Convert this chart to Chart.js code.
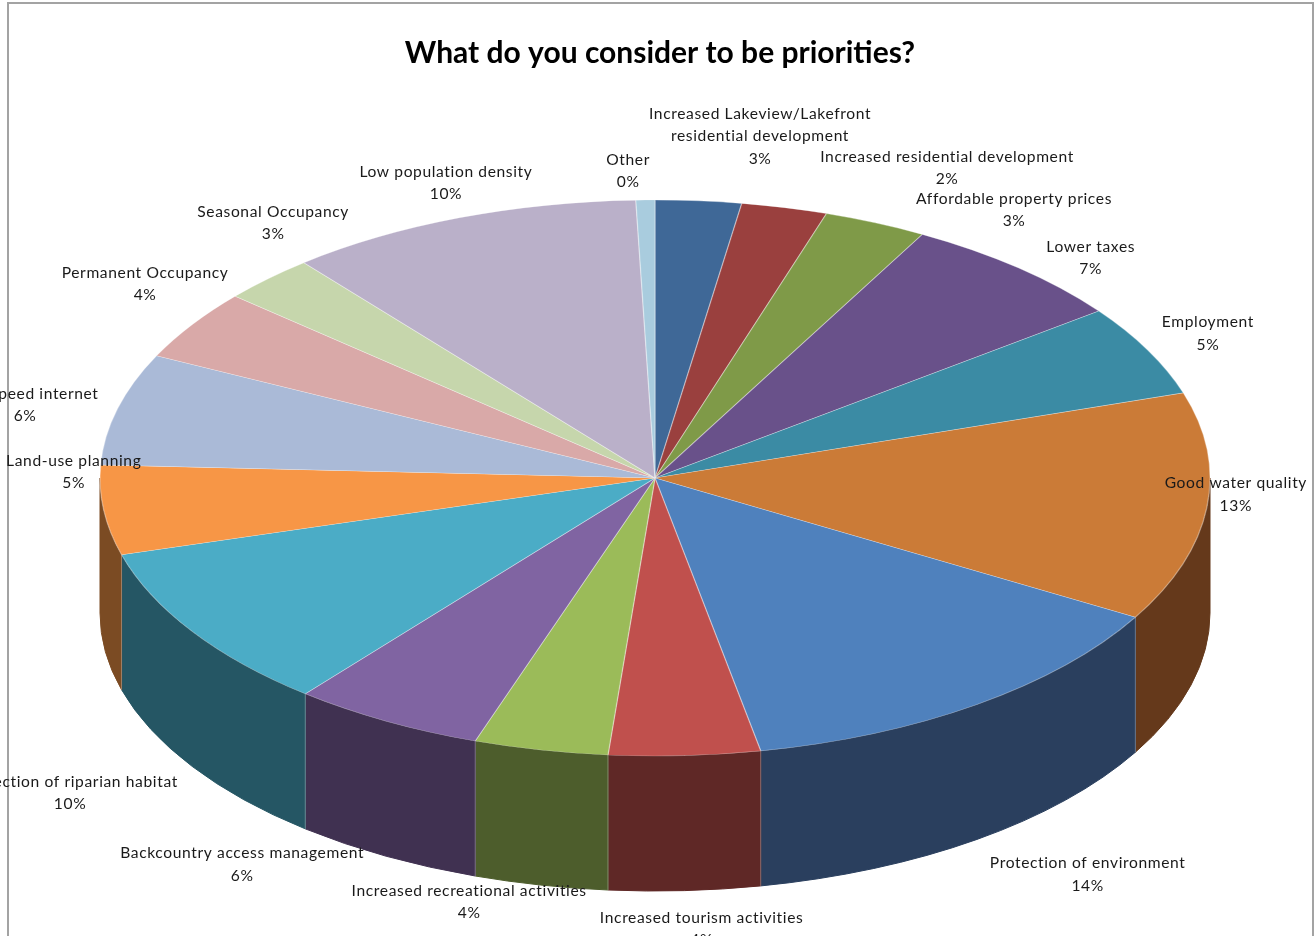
<!DOCTYPE html>
<html><head><meta charset="utf-8">
<style>
html,body{margin:0;padding:0;background:#fff;width:1315px;height:936px;overflow:hidden}
#frame{position:absolute;left:7px;top:2px;width:1303px;height:1000px;border:2px solid #a3a3a3;border-bottom:none;box-sizing:content-box}
canvas{position:absolute;left:0;top:0}
</style>
<script src="https://cdn.jsdelivr.net/npm/chart.js@4"></script>
</head><body>
<div id="frame"></div>
<canvas id="c" width="1315" height="936"></canvas>
<script>
const categories = ["Increased Lakeview/Lakefront\nresidential development","Increased residential development","Affordable property prices","Lower taxes","Employment","Good water quality","Protection of environment","Increased tourism activities","Increased recreational activities","Backcountry access management","Protection of riparian habitat","Land-use planning","High speed internet","Permanent Occupancy","Seasonal Occupancy","Low population density","Other"];
const values = [2.5,2.5,3,6.75,5.3,13.3,13.6,4.4,3.9,5.6,9.7,5.2,6.5,4.1,2.75,10.35,0.55];
const percentLabels = ["3%","2%","3%","7%","5%","13%","14%","4%","4%","6%","10%","5%","6%","4%","3%","10%","0%"];
const topColors = ["#3F6897","#9A403E","#7F9A48","#69518A","#3B8BA4","#CB7B37","#4F81BD","#C0504D","#9BBB59","#8064A2","#4BACC6","#F79646","#AABAD7","#D9A9A8","#C6D6AC","#BAB0C9","#A9CCDE"];
const sideColors = ["#2A3F5E","#5F2826","#4D5D2C","#403151","#255664","#65391B","#2A3F5E","#5F2826","#4D5D2C","#403151","#255664","#7B4B23","#5F7090","#7A5A5A","#6F7F5A","#665F75","#5F7F90"];
const labelOffsets = [[61.5,-87],[162.5,-50.7],[138.6,-23.8],[72,-21],[60,-28],[29,-24.5],[110.7,158.7],[17,162.4],[-71.6,141],[-143.9,132],[-122,150.6],[-30,-49.4],[-92.4,-14.9],[-47,-51.6],[5,-66.7],[-13.7,-46],[-17.3,-40]];
const view = {cx:655, cy:478, a:555, b:278, depth:135, lineH:22.4};

function project(ctx, el){
  ctx.translate(view.cx, view.cy);
  ctx.scale(view.a/el.outerRadius, view.b/el.outerRadius);
  ctx.translate(-el.x, -el.y);
}
const pie3d = {
  id:'pie3d',
  beforeDatasetsDraw(chart){
    const ctx = chart.ctx, arcs = chart.getDatasetMeta(0).data;
    const {cx,cy,a,b,depth} = view;
    ctx.save();
    ctx.lineWidth=1;
    arcs.forEach((el,i)=>{
      const s=Math.max(el.startAngle,0), e=Math.min(el.endAngle,Math.PI);
      if(e<=s) return;
      ctx.fillStyle=sideColors[i]; ctx.strokeStyle=sideColors[i];
      ctx.beginPath();
      ctx.ellipse(cx,cy,a,b,0,s,e,false);
      ctx.ellipse(cx,cy+depth,a,b,0,e,s,true);
      ctx.closePath(); ctx.fill(); ctx.stroke();
    });
    ctx.strokeStyle='rgba(255,255,255,0.3)';
    arcs.forEach(el=>{
      const sa=Math.sin(el.startAngle);
      if(sa<=0) return;
      const x=cx+a*Math.cos(el.startAngle), y=cy+b*sa;
      ctx.beginPath(); ctx.moveTo(x,y); ctx.lineTo(x,y+depth); ctx.stroke();
    });
    ctx.restore();
    ctx.save();
    project(ctx, arcs[0]);
  },
  afterDatasetsDraw(chart){
    chart.ctx.restore();
    const ctx = chart.ctx, arcs = chart.getDatasetMeta(0).data;
    ctx.save();
    ctx.font='15.6px Lato'; ctx.fillStyle='#1a1a1a'; ctx.textAlign='center'; ctx.textBaseline='middle';
    ctx.letterSpacing='0.62px';
    arcs.forEach((el,i)=>{
      const m=(el.startAngle+el.endAngle)/2;
      const x=view.cx+view.a*Math.cos(m)+labelOffsets[i][0];
      let y=view.cy+view.b*Math.sin(m)+labelOffsets[i][1];
      categories[i].split("\n").concat(percentLabels[i]).forEach(t=>{ctx.fillText(t,x,y); y+=view.lineH;});
    });
    ctx.restore();
  }
};
new Chart(document.getElementById('c'),{
  type:'pie',
  data:{labels:categories,datasets:[{data:values,backgroundColor:topColors,borderColor:'rgba(255,255,255,0.35)',borderWidth:1}]},
  options:{
    responsive:false,animation:false,
    layout:{padding:{left:5,top:0}},
    plugins:{
      legend:{display:false},tooltip:{enabled:false},
      title:{display:true,text:'What do you consider to be priorities?',color:'#000',font:{family:'Lato',size:30,weight:'bold'},padding:{top:35,bottom:10}}
    }
  },
  plugins:[pie3d]
});
</script>
</body></html>
